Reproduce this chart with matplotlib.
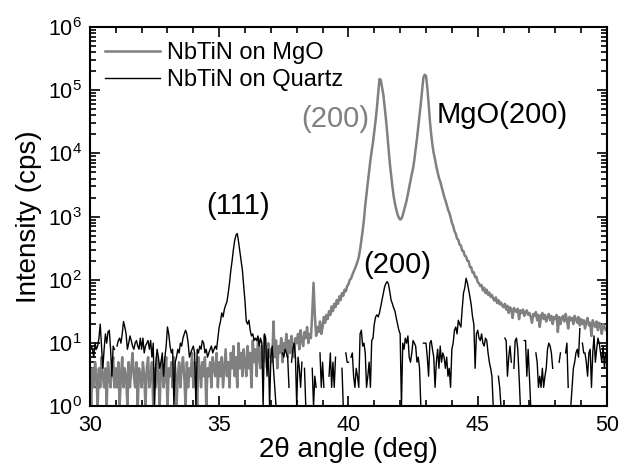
import numpy as np
import matplotlib
matplotlib.use("Agg")
import matplotlib.pyplot as plt
from matplotlib.ticker import MultipleLocator, LogLocator

plt.rcParams['font.family'] = ['Liberation Sans', 'DejaVu Sans']
plt.rcParams['mathtext.fontset'] = 'custom'
plt.rcParams['mathtext.rm'] = 'Liberation Sans'

# 2-theta scan: 30-50 deg in 0.05 deg steps
two_theta = np.round(np.linspace(30.0, 50.0, 401), 2)

# NbTiN film on MgO substrate (counts per second), one row per degree
mgo_counts = [
    3, 1, 4, 2, 5, 3, 1, 4, 2, 6, 3, 2, 4, 1, 5, 3, 2, 4, 6, 2,              # 30
    4, 2, 5, 1, 3, 6, 2, 4, 3, 1, 5, 2, 4, 7, 3, 2, 5, 1, 4, 3,              # 31
    2, 5, 3, 1, 4, 6, 2, 3, 5, 1, 4, 2, 6, 3, 1, 5, 4, 2, 3, 6,              # 32
    1, 4, 3, 5, 2, 6, 4, 1, 3, 5, 2, 4, 6, 3, 1, 5, 2, 4, 3, 7,              # 33
    2, 5, 3, 1, 6, 4, 2, 5, 3, 6, 1, 4, 3, 5, 2, 6, 4, 3, 7, 2,              # 34
    5, 3, 6, 2, 4, 8, 3, 5, 2, 7, 4, 9, 3, 6, 2, 10, 4, 7, 3, 8,             # 35
    5, 3, 9, 4, 7, 2, 11, 5, 8, 3, 12, 6, 4, 9, 5, 13, 7, 4, 10, 6,          # 36
    8, 5, 22, 6, 11, 4, 9, 7, 12, 5, 10, 8, 14, 6, 11, 7, 13, 9, 6, 12,      # 37
    10, 14, 8, 16, 11, 9, 15, 12, 18, 10, 14, 12, 30, 90, 28, 13, 18, 15, 22, 14,  # 38
    18, 26, 21, 28, 24, 32, 28, 38, 32, 42, 37, 48, 42, 55, 48, 62, 56, 70, 66, 80,  # 39
    85, 100, 105, 120, 135, 150, 170, 195, 230, 300,
    420, 600, 900, 1500, 2300, 3500, 5200, 7800, 11000, 15000,               # 40
    22000, 33000, 52000, 90000, 150000, 145000, 110000, 85000, 55000, 35000,
    21000, 12000, 7000, 4500, 3000, 2100, 1600, 1300, 1080, 960,             # 41
    900, 930, 1050, 1250, 1500, 1800, 2300, 2900, 3700, 4700,
    5800, 8000, 11500, 17000, 26000, 40000, 62000, 100000, 160000, 175000,   # 42
    168000, 110000, 62000, 33000, 20000, 13500, 10000, 8000, 6200, 5000,
    4100, 3600, 3000, 2500, 2100, 1800, 1550, 1300, 1150, 980,               # 43
    800, 720, 590, 540, 450, 430, 360, 350, 290, 285,
    240, 235, 200, 198, 160, 158, 130, 132, 110, 112,                        # 44
    92, 88, 80, 83, 68, 75, 62, 70, 58, 63, 54, 58, 50, 47, 53, 43, 48, 41, 44, 39,  # 45
    37, 42, 34, 39, 30, 37, 34, 25, 36, 33, 31, 35, 24, 33, 30, 34, 27, 31, 33, 28,  # 46
    30, 26, 21, 29, 27, 31, 23, 28, 18, 27, 30, 24, 28, 22, 26, 29, 23, 27, 20, 26,  # 47
    24, 28, 15, 26, 20, 25, 27, 22, 29, 24, 17, 26, 23, 25, 20, 27, 24, 21, 26, 19,  # 48
    24, 20, 23, 17, 22, 25, 19, 21, 13, 23, 20, 18, 22, 16, 21, 19, 14, 20, 18, 16,  # 49
    18,                                                                       # 50
]

# NbTiN film on quartz (counts per second); zero counts leave gaps
quartz_counts = [
    7, 9, 8, 6, 10, 8, 9, 12, 20, 9, 4, 8, 14, 10, 15, 16, 8, 3, 9, 8,       # 30
    0, 9, 11, 12, 10, 14, 22, 18, 14, 8, 10, 13, 11, 9, 8, 10, 11, 9, 8, 12, # 31
    8, 12, 7, 9, 10, 11, 8, 11, 6, 10, 1, 5, 8, 6, 4, 5, 7, 3, 6, 9,         # 32
    18, 14, 9, 7, 8, 1, 5, 6, 8, 7, 10, 9, 12, 14, 16, 14, 10, 6, 7, 8,      # 33
    9, 7, 1, 8, 7, 9, 8, 11, 10, 7, 8, 6, 7, 8, 9, 7, 8, 9, 8, 12,           # 34
    18, 22, 30, 26, 34, 40, 45, 62, 90, 140, 200, 300, 420, 510, 540, 400, 280, 200, 140, 80,  # 35
    45, 22, 20, 23, 16, 13, 14, 11, 12, 11, 13, 9, 12, 10, 1, 14, 12, 3, 8, 1,  # 36
    6, 9, 4, 2, 1, 0, 3, 0, 0, 7, 6, 8, 7, 6, 2, 0, 5, 8, 10, 6,             # 37
    1, 6, 4, 2, 5, 0, 4, 1, 0, 0, 0, 0, 4, 1, 3, 2, 0, 0, 7, 2,              # 38
    5, 2, 0, 0, 0, 3, 7, 2, 5, 2, 6, 0, 0, 0, 0, 4, 1, 0, 7, 5,              # 39
    5, 0, 6, 7, 3, 2, 4, 3, 2, 14, 16, 9, 10, 7, 2, 3, 5, 2, 11, 12,         # 40
    20, 26, 28, 26, 30, 38, 48, 60, 78, 88, 94, 85, 65, 48, 42, 36, 32, 25, 20, 16,  # 41
    14, 1, 10, 8, 12, 10, 13, 6, 5, 7, 11, 10, 9, 5, 6, 4, 1, 0, 10, 10,     # 42
    10, 6, 3, 10, 11, 8, 6, 2, 5, 8, 4, 9, 5, 7, 6, 4, 6, 3, 4, 2,           # 43
    8, 10, 16, 18, 14, 23, 20, 18, 35, 62, 75, 106, 90, 70, 54, 40, 26, 20, 4, 14,  # 44
    16, 12, 11, 14, 10, 9, 12, 11, 7, 5, 4, 3, 1, 0, 1, 0, 3, 2, 1, 0,       # 45
    0, 12, 11, 3, 6, 9, 5, 0, 4, 11, 12, 8, 3, 1, 0, 0, 11, 11, 3, 8,        # 46
    3, 1, 0, 6, 0, 7, 5, 2, 3, 2, 4, 2, 3, 4, 8, 10, 9, 7, 4, 0,             # 47
    0, 0, 0, 5, 7, 0, 0, 0, 7, 10, 2, 0, 1, 2, 4, 5, 7, 8, 6, 17,            # 48
    0, 10, 7, 7, 5, 3, 7, 8, 2, 7, 13, 5, 8, 12, 10, 7, 5, 9, 4, 7,          # 49
    6,                                                                        # 50
]

series_labels = ["NbTiN on MgO", "NbTiN on Quartz"]
series_colors = ["#808080", "#000000"]

peak_labels = [
    # text, x (deg), y (cps), colour, horizontal alignment
    ("(111)", 35.75, 1500, "#000000", "center"),
    ("(200)", 39.48, 3.5e4, "#808080", "center"),
    ("MgO(200)", 43.42, 4.0e4, "#000000", "left"),
    ("(200)", 41.88, 172, "#000000", "center"),
]

fig = plt.figure(figsize=(6.2, 4.72), dpi=100)
ax = fig.add_axes([0.145, 0.139, 0.834, 0.804])

ax.plot(two_theta, np.asarray(mgo_counts, float), color=series_colors[0],
        lw=1.8, label=series_labels[0], zorder=2)
ax.plot(two_theta, np.asarray(quartz_counts, float), color=series_colors[1],
        lw=1.0, label=series_labels[1], zorder=3)

ax.set_yscale('log', nonpositive='mask')
ax.set_xlim(30, 50)
ax.set_ylim(1, 1e6)

ax.xaxis.set_major_locator(MultipleLocator(5))
ax.xaxis.set_minor_locator(MultipleLocator(1))
ax.yaxis.set_major_locator(LogLocator(base=10, numticks=10))
ax.yaxis.set_minor_locator(LogLocator(base=10, subs=np.arange(2, 10), numticks=20))

ax.tick_params(which='both', direction='in', top=True, right=True, width=1.2)
ax.tick_params(which='major', length=7, labelsize=15.5, pad=6)
ax.tick_params(which='minor', length=4)
for s in ax.spines.values():
    s.set_linewidth(1.5)

ax.set_xlabel("2θ angle (deg)", fontsize=20, labelpad=1)
ax.set_ylabel("Intensity (cps)", fontsize=20, labelpad=4)

for text, x, y, c, ha in peak_labels:
    ax.text(x, y, text, color=c, fontsize=21, ha=ha, va='center')

ax.legend(loc='upper left', frameon=False, fontsize=17, handlelength=2.3,
          handletextpad=0.3, labelspacing=0.2, borderaxespad=0.25,
          bbox_to_anchor=(0.0, 1.0))

fig.savefig("out.png", dpi=100)
